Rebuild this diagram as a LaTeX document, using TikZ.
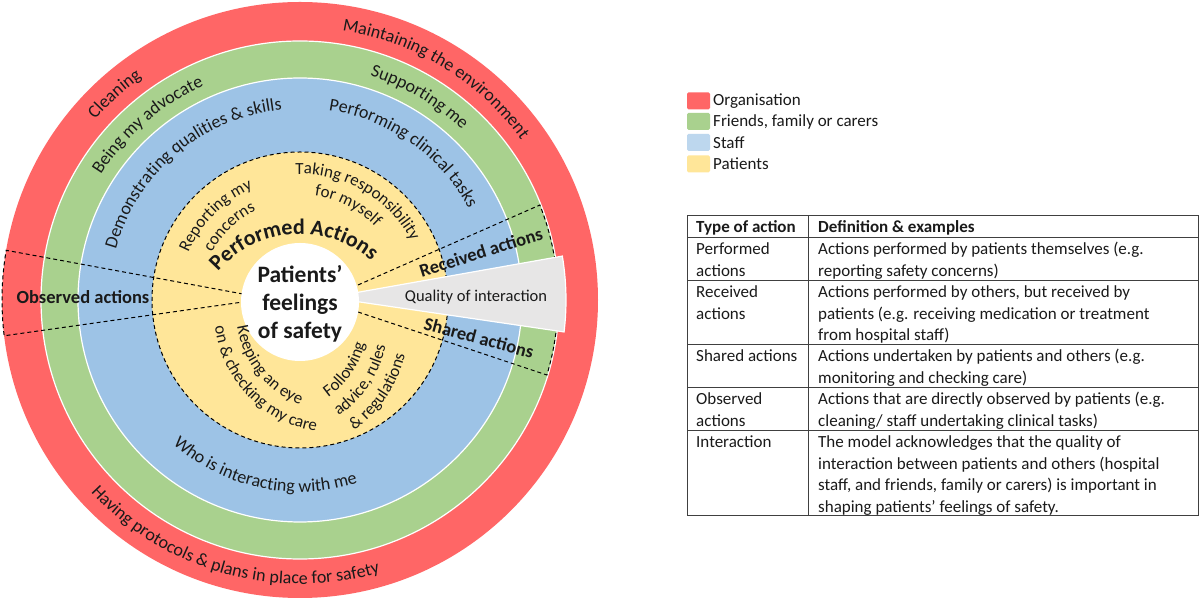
\documentclass[tikz,border=0pt]{standalone}
\usepackage{fontspec}
\setmainfont{Carlito}
\usetikzlibrary{decorations.text}
\definecolor{ringred}{HTML}{FF6666}
\definecolor{ringgreen}{HTML}{A9D18E}
\definecolor{ringblue}{HTML}{9DC3E6}
\definecolor{ringyellow}{HTML}{FFE699}
\definecolor{legblue}{HTML}{BDD7EE}
\definecolor{qgray}{HTML}{E7E6E6}
\definecolor{txt}{HTML}{1A1A1A}
\newcommand\ringf{\fontsize{18}{21}\selectfont}
\newcommand\yelf{\fontsize{17}{20}\selectfont}
\newcommand\paf{\bfseries\fontsize{22}{25}\selectfont}
% [#1 shift] #2 centre angle, #3 radius, #4 half span, #5 text
\newcommand\toparc[5][0,0]{\path[decorate,decoration={text along path,text align=center,text color=txt,text={#5}}] [shift={(#1)}] ({#2+#4}:#3) arc[start angle={#2+#4},end angle={#2-#4},radius=#3];}
\newcommand\botarc[5][0,0]{\path[decorate,decoration={text along path,text align=center,text color=txt,text={#5}}] [shift={(#1)}] ({#2-#4}:#3) arc[start angle={#2-#4},end angle={#2+#4},radius=#3];}
\tikzset{
  dsh/.style={draw=black,line width=1pt,dash pattern=on 4pt off 3pt},
  lbl/.style={font=\bfseries\fontsize{18.5}{21}\selectfont,text=txt,inner sep=0pt},
  swatch/.style={minimum width=23pt,minimum height=17pt,inner sep=0pt,rounded corners=1.5pt},
  legtxt/.style={font=\fontsize{17}{21}\selectfont,text=txt,anchor=west,inner sep=0pt},
  cell/.style={font=\fontsize{17}{21.5}\selectfont,text=txt,anchor=north west,inner sep=0pt,align=left},
  tline/.style={draw=black!75,line width=1pt}
}
\begin{document}
\begin{tikzpicture}[x=1pt,y=1pt]
\useasboundingbox (-300,-301) rectangle (900,300);
\fill[white] (-300,-301) rectangle (900,300);
% rings
\fill[ringred] (0,0) circle[radius=298];
\filldraw[fill=ringgreen,draw=white,line width=1.2pt] (0,0) circle[radius=259];
\filldraw[fill=ringblue,draw=white,line width=1.2pt] (0,0) circle[radius=222];
\fill[ringyellow] (0,0) circle[radius=148];
\draw[dsh] (0,0) circle[radius=148];
% observed wedge
\draw[dsh] (-57,6) -- (170.4:298) arc[start angle=170.4,end angle=186.9,radius=298] -- (-57,-2);
% received / shared wedge
\draw[dsh] (58,15) -- (21.6:258) arc[start angle=21.6,end angle=-16.9,radius=258] -- (58,-12);
% quality of interaction wedge
\filldraw[fill=qgray,draw=white,line width=1.2pt] (40,4.5) -- (9.5:266) arc[start angle=9.5,end angle=-6.9,radius=266] -- (40,0.9) -- cycle;
% centre
\fill[white] (0,-2) circle[radius=59];
\node[font=\bfseries\fontsize{23.5}{28}\selectfont,text=txt,align=center,inner sep=0pt] (centre) at (0,-4) {Patients’\\feelings\\of safety};
% ring texts: organisation
\toparc{132}{273}{40}{|\ringf|Cleaning}
\toparc{58.5}{273}{60}{|\ringf|Maintaining the environment}
\botarc{254.5}{284}{70}{|\ringf|Having protocols {\&} plans in place for safety}
% friends
\toparc{131}{235}{50}{|\ringf|Being my advocate}
\toparc{59.5}{235}{50}{|\ringf|Supporting me}
% staff
\toparc{130}{191}{60}{|\ringf|Demonstrating qualities {\&} skills}
\toparc{55}{192}{60}{|\ringf|Performing clinical tasks}
\botarc{258}{192}{60}{|\ringf|Who is interacting with me}
% patients
\toparc[0,-42]{94}{108}{66}{|\paf|Performed Actions}
\toparc{135}{121}{45}{|\yelf|Reporting my}
\toparc{134}{100}{45}{|\yelf|concerns}
\toparc{60}{126}{50}{|\yelf|Taking responsibility}
\toparc{63}{105}{45}{|\yelf|for myself}
\botarc[35,-12]{219}{99}{50}{|\yelf|Keeping an eye}
\botarc[35,-12]{224}{121}{55}{|\yelf|on {\&} checking my care}
\botarc[-23,-23.5]{-34}{90}{40}{|\yelf|Following}
\botarc[-23,-23.5]{-34}{111}{40}{|\yelf|advice, rules}
\botarc[-23,-23.5]{-34}{132}{40}{|\yelf|{\&} regulations}
% action labels
\node[lbl,rotate=17.6] (recv) at (181,48) {Received actions};
\node[lbl,rotate=-15] (shar) at (179,-38) {Shared actions};
\node[lbl] (obs) at (-217,3) {Observed actions};
\node[font=\fontsize{16.5}{20}\selectfont,text=txt,inner sep=0pt] (qual) at (176,3) {Quality of interaction};
% legend
\node[swatch,fill=ringred] (s1) at (398.5,199) {};
\node[swatch,fill=ringgreen] (s2) at (398.5,178.5) {};
\node[swatch,fill=legblue] (s3) at (398.5,157.5) {};
\node[swatch,fill=ringyellow] (s4) at (398.5,136) {};
\node[legtxt] (l1) at (413,199) {Organisation};
\node[legtxt] (l2) at (413,178.5) {Friends, family or carers};
\node[legtxt] (l3) at (413,157.5) {Staff};
\node[legtxt] (l4) at (413,136) {Patients};
% table
\draw[tline] (387,84) rectangle (898,-216);
\draw[tline] (508,84) -- (508,-216);
\foreach \yy in {62,19,-45,-88,-131} {\draw[tline] (387,\yy) -- (898,\yy);}
\node[cell,font=\bfseries\fontsize{17}{21.5}\selectfont] (h1) at (396,82.5) {\strut Type of action};
\node[cell,font=\bfseries\fontsize{17}{21.5}\selectfont] (h2) at (518,82.5) {\strut Definition \& examples};
\node[cell] (a1) at (396,60.5) {\strut Performed\\actions};
\node[cell] (b1) at (518,60.5) {\strut Actions performed by patients themselves (e.g.\\reporting safety concerns)};
\node[cell] (a2) at (396,17.5) {\strut Received\\actions};
\node[cell] (b2) at (518,17.5) {\strut Actions performed by others, but received by\\patients (e.g. receiving medication or treatment\\from hospital staff)};
\node[cell] (a3) at (396,-46.5) {\strut Shared actions};
\node[cell] (b3) at (518,-46.5) {\strut Actions undertaken by patients and others (e.g.\\monitoring and checking care)};
\node[cell] (a4) at (396,-89.5) {\strut Observed\\actions};
\node[cell] (b4) at (518,-89.5) {\strut Actions that are directly observed by patients (e.g.\\cleaning/ staff undertaking clinical tasks)};
\node[cell] (a5) at (396,-132.5) {\strut Interaction};
\node[cell] (b5) at (518,-132.5) {\strut The model acknowledges that the quality of\\interaction between patients and others (hospital\\staff, and friends, family or carers) is important in\\shaping patients’ feelings of safety.};
\end{tikzpicture}
\end{document}
